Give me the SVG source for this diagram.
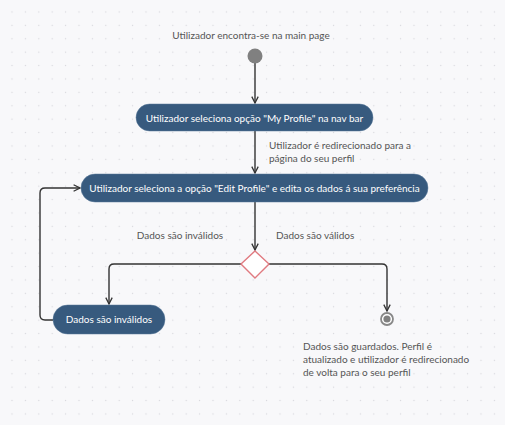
<svg xmlns="http://www.w3.org/2000/svg" width="505" height="425" viewBox="0 0 505 425">
<defs>
<pattern id="dots" x="0" y="0" width="13.4" height="13.4" patternUnits="userSpaceOnUse">
<circle cx="12" cy="12" r="0.7" fill="#d6d6dc"/>
</pattern>
<marker id="arr" viewBox="0 0 10 10" refX="9" refY="5" markerWidth="8" markerHeight="8" markerUnits="userSpaceOnUse" orient="auto">
<path d="M1,1 L9,5 L1,9" fill="none" stroke="#333" stroke-width="1.6"/>
</marker>
<style>
.lbl{font-family:Lato,"Open Sans",sans-serif;font-size:10px;fill:#555}
.nt{font-family:Lato,"Open Sans",sans-serif;font-size:10px;fill:#fff;text-anchor:middle}
.node{fill:#375a7e;stroke:#5a7a9a;stroke-width:0.5}
.edge{fill:none;stroke:#333;stroke-width:1.4;marker-end:url(#arr)}
</style>
</defs>
<rect width="505" height="425" fill="#f8f8fa"/>
<rect width="505" height="425" fill="url(#dots)"/>

<g id="connectors">
<path class="edge" d="M255,63 L255,103"/>
<path class="edge" d="M255,131 L255,173"/>
<path class="edge" d="M255,202 L255,250"/>
<path class="edge" d="M241,264 L114,264 Q109,264 109,269 L109,304"/>
<path class="edge" d="M269,264 L382,264 Q387,264 387,269 L387,311"/>
<path class="edge" d="M53,320 L45,320 Q40,320 40,315 L40,193 Q40,188 45,188 L80,188"/>
</g>

<g id="start">
<text class="lbl" x="251" y="39" text-anchor="middle">Utilizador encontra-se na main page</text>
<circle cx="255" cy="56" r="7.5" fill="#808080"/>
</g>

<g id="n1">
<rect class="node" x="136" y="104" width="237" height="27" rx="13.5"/>
<text class="nt" x="254.5" y="121.5">Utilizador seleciona opção "My Profile" na nav bar</text>
</g>

<g id="lbl1">
<text class="lbl" x="269" y="149">Utilizador é redirecionado para a</text>
<text class="lbl" x="269" y="162">página do seu perfil</text>
</g>

<g id="n2">
<rect class="node" x="81" y="174" width="347" height="28" rx="14"/>
<text class="nt" x="254.5" y="191.5">Utilizador seleciona a opção "Edit Profile" e edita os dados á sua preferência</text>
</g>

<g id="labels">
<text class="lbl" x="180" y="239" text-anchor="middle">Dados são inválidos</text>
<text class="lbl" x="276" y="239">Dados são válidos</text>
</g>

<g id="decision">
<path d="M255,251 L269,264 L255,278 L241,264 Z" fill="#fff" stroke="#e07a80" stroke-width="1.4"/>
</g>

<g id="n3">
<rect class="node" x="53" y="305" width="112" height="29" rx="14.5"/>
<text class="nt" x="109" y="323">Dados são inválidos</text>
</g>

<g id="end">
<circle cx="387" cy="319" r="6" fill="#fff" stroke="#888" stroke-width="1.8"/>
<circle cx="387" cy="319" r="3.6" fill="#808080"/>
<text class="lbl" x="303" y="350">Dados são guardados. Perfil é</text>
<text class="lbl" x="303" y="363">atualizado e utilizador é redirecionado</text>
<text class="lbl" x="303" y="376">de volta para o seu perfil</text>
</g>
</svg>
